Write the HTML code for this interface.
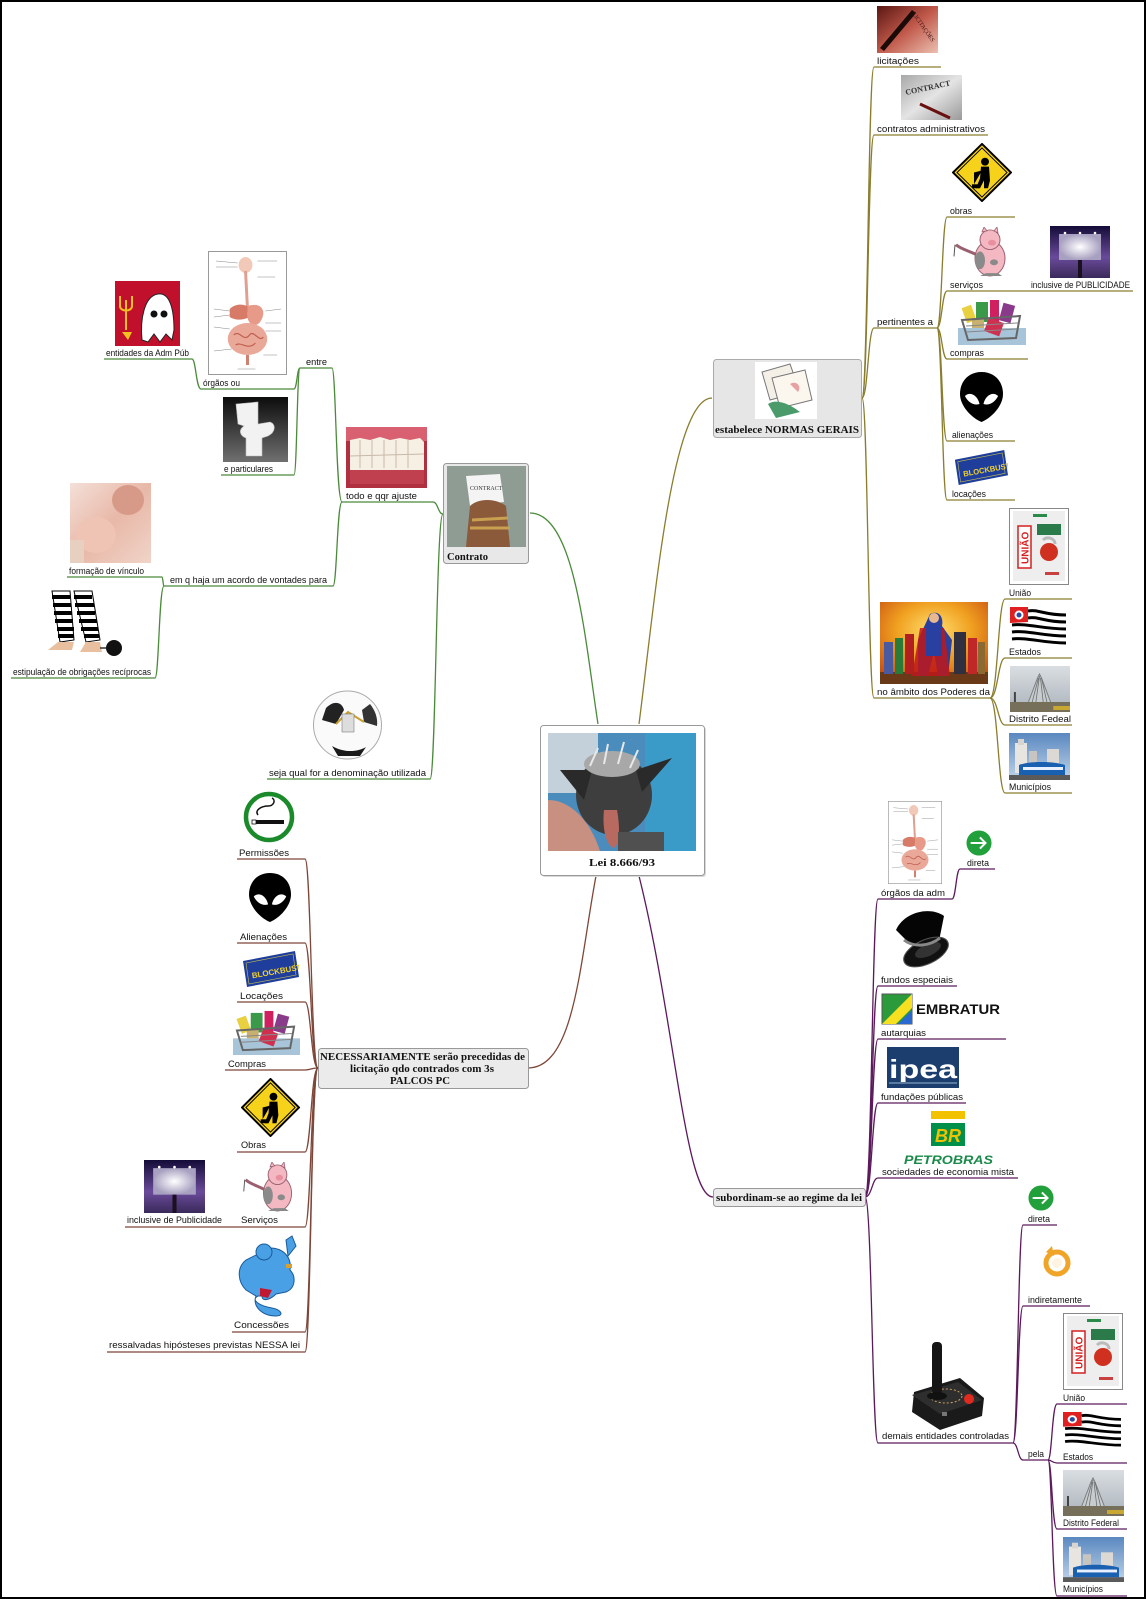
<!DOCTYPE html>
<html><head><meta charset="utf-8"><style>
html,body{margin:0;padding:0;background:#fff;}
svg{display:block;}
.t{font-family:"Liberation Sans",Arial,sans-serif;font-size:9px;fill:#111;}
.b{font-family:"Liberation Serif","Times New Roman",serif;font-weight:bold;font-size:11px;fill:#111;}
.g{fill:none;stroke:#4b8a3b;stroke-width:1.3;}
.o{fill:none;stroke:#8a7d2e;stroke-width:1.3;}
.r{fill:none;stroke:#7d4638;stroke-width:1.3;}
.p{fill:none;stroke:#5c1a5c;stroke-width:1.3;}
</style></head><body>
<svg width="1146" height="1600" viewBox="0 0 1146 1600" xmlns="http://www.w3.org/2000/svg">
<defs>
<linearGradient id="lic" x1="0" y1="0" x2="1" y2="1"><stop offset="0" stop-color="#5a1612"/><stop offset=".5" stop-color="#c0584a"/><stop offset="1" stop-color="#ecc0b0"/></linearGradient>
<linearGradient id="con" x1="0" y1="0" x2="1" y2="1"><stop offset="0" stop-color="#a8a8a8"/><stop offset=".5" stop-color="#e4e4e4"/><stop offset="1" stop-color="#9a9a9a"/></linearGradient>
<linearGradient id="bb" x1="0" y1="0" x2="0" y2="1"><stop offset="0" stop-color="#140c38"/><stop offset=".6" stop-color="#6a4a9a"/><stop offset="1" stop-color="#3a2a5a"/></linearGradient>
<radialGradient id="bbw"><stop offset="0" stop-color="#fff"/><stop offset="1" stop-color="#a8a0c0"/></radialGradient>
<radialGradient id="hero" cx=".5" cy=".35" r=".7"><stop offset="0" stop-color="#ffe070"/><stop offset=".5" stop-color="#f0a020"/><stop offset="1" stop-color="#c85010"/></radialGradient>
<linearGradient id="dfs" x1="0" y1="0" x2="0" y2="1"><stop offset="0" stop-color="#dadee2"/><stop offset="1" stop-color="#aab2ba"/></linearGradient>
<linearGradient id="mus" x1="0" y1="0" x2="0" y2="1"><stop offset="0" stop-color="#5a88c0"/><stop offset="1" stop-color="#c0d4e8"/></linearGradient>
<linearGradient id="toi" x1="0" y1="0" x2="0" y2="1"><stop offset="0" stop-color="#0c0c0c"/><stop offset="1" stop-color="#707070"/></linearGradient>
<linearGradient id="baby" x1="0" y1="0" x2="1" y2="1"><stop offset="0" stop-color="#f4e0d8"/><stop offset=".5" stop-color="#e8b8a8"/><stop offset="1" stop-color="#f0d4c8"/></linearGradient>

<symbol id="alien" viewBox="0 0 44 50" preserveAspectRatio="none"><path d="M22,0C36,0 44,10 44,22C44,34 32,46 22,50C12,46 0,34 0,22C0,10 8,0 22,0Z" fill="#000"/><path d="M5,24C10,19 18,23 20,32C14,34 8,30 5,24Z M39,24C34,19 26,23 24,32C30,34 36,30 39,24Z" fill="#fff"/></symbol>
<symbol id="blk" viewBox="0 0 58 36" preserveAspectRatio="none"><path d="M2,10L54,0L58,26L6,36Z" fill="#1f3e9c"/><path d="M5,12L52,3L55,24L8,33Z" fill="none" stroke="#c8c050" stroke-width=".6"/><text x="10" y="24" transform="rotate(-10 30 18)" font-family="Liberation Sans,sans-serif" font-weight="bold" font-size="8" fill="#f2d22a">BLOCKBUSTER</text></symbol>
<symbol id="cart" viewBox="0 0 68 47" preserveAspectRatio="none"><rect x="0" y="30" width="68" height="17" fill="#a8c4d8"/><rect x="6" y="8" width="10" height="16" fill="#e8d040" transform="rotate(-20 11 16)"/><rect x="18" y="4" width="12" height="20" fill="#3a9a4a"/><rect x="32" y="2" width="9" height="22" fill="#d02060"/><rect x="43" y="6" width="12" height="18" fill="#8a3a8a" transform="rotate(15 49 15)"/><rect x="28" y="22" width="16" height="14" fill="#d03050" transform="rotate(20 36 29)"/><rect x="14" y="20" width="12" height="10" fill="#c8b070"/><path d="M4,22L62,18L58,40L10,42Z" fill="none" stroke="#666" stroke-width="2"/><path d="M8,28L60,25M8,34L59,31" stroke="#888" stroke-width="1"/></symbol>
<symbol id="sign" viewBox="0 0 60 60" preserveAspectRatio="none"><polygon points="30,1 59,30 30,59 1,30" fill="#f6d21a" stroke="#000" stroke-width="2"/><polygon points="30,5 55,30 30,55 5,30" fill="none" stroke="#000" stroke-width="1"/><circle cx="33" cy="19" r="4" fill="#000"/><path d="M29,24L37,24L38,38L36,46L32,46L32,38L28,46L24,46L28,36Z" fill="#000"/><path d="M22,30L30,28L22,42Z" fill="#000"/><rect x="20" y="42" width="7" height="4" fill="#000"/></symbol>
<symbol id="pig" viewBox="0 0 64 52" preserveAspectRatio="none"><ellipse cx="40" cy="32" rx="15" ry="18" fill="#f4b8c2" stroke="#9a6070" stroke-width="1"/><circle cx="40" cy="13" r="10" fill="#f4b8c2" stroke="#9a6070" stroke-width="1"/><path d="M32,5L34,0L37,4Z M44,4L47,0L48,6Z" fill="#f4b8c2" stroke="#9a6070" stroke-width=".8"/><ellipse cx="42" cy="16" rx="4" ry="3" fill="#e890a0"/><path d="M26,28C18,24 10,22 6,18" stroke="#9a6070" stroke-width="3" fill="none"/><path d="M5,18L4,30" stroke="#555" stroke-width="1"/><ellipse cx="30" cy="34" rx="5" ry="9" fill="#8a8a8a"/><ellipse cx="44" cy="36" rx="4" ry="3" fill="#8a8a8a"/><path d="M30,50L36,47L48,47L52,50Z" fill="#888"/></symbol>
<symbol id="bill" viewBox="0 0 60 52" preserveAspectRatio="none"><rect width="60" height="52" fill="url(#bb)"/><rect x="9" y="8" width="42" height="26" fill="url(#bbw)"/><rect x="28" y="34" width="4" height="18" fill="#1a1020"/><circle cx="15" cy="7" r="1.3" fill="#fff"/><circle cx="30" cy="7" r="1.3" fill="#fff"/><circle cx="45" cy="7" r="1.3" fill="#fff"/></symbol>
<symbol id="bag" viewBox="0 0 60 77" preserveAspectRatio="none"><rect x=".5" y=".5" width="59" height="76" fill="#fff" stroke="#888"/><rect x="4" y="3" width="52" height="70" fill="#eeeeee"/><rect x="24" y="6" width="14" height="3" fill="#2a8a4a"/><rect x="9" y="18" width="13" height="42" fill="#fff" stroke="#d42020" stroke-width="1.5"/><text x="0" y="0" transform="translate(19.5 56) rotate(-90)" font-family="Liberation Sans,sans-serif" font-weight="bold" font-size="10" fill="#d42020">UNIÃO</text><rect x="28" y="16" width="24" height="11" fill="#2a7a4a"/><circle cx="40" cy="44" r="9" fill="#d03020"/><path d="M34,32C38,28 46,30 46,36" stroke="#bbb" stroke-width="3" fill="none"/><rect x="36" y="64" width="14" height="3" fill="#c84040"/></symbol>
<symbol id="flag" viewBox="0 0 57 38" preserveAspectRatio="none"><g fill="none" stroke="#000" stroke-width="3"><path d="M18,4C28,2 34,8 56,8"/><path d="M18,11C28,9 34,15 56,15"/><path d="M2,18C18,16 32,22 56,22"/><path d="M2,25C18,23 32,29 56,29"/><path d="M2,32C18,30 32,36 56,36"/></g><path d="M0,0L18,0L18,15L0,16Z" fill="#e02020"/><circle cx="9" cy="8" r="4.5" fill="#fff"/><circle cx="9" cy="8" r="2.5" fill="#2a4aa0"/></symbol>
<symbol id="df" viewBox="0 0 61 46" preserveAspectRatio="none"><rect width="61" height="46" fill="url(#dfs)"/><path d="M18,38L28,12L30,8L32,12L42,38Z" fill="#c8ccce" stroke="#7a7e80" stroke-width="1"/><path d="M22,38L29,12M26,38L30,10M34,38L31,12M38,38L32,12" stroke="#6a6e70" stroke-width=".8"/><rect x="4" y="26" width="2" height="12" fill="#444"/><rect x="0" y="36" width="61" height="10" fill="#76705a"/><rect x="44" y="40" width="17" height="4" fill="#c8a830"/></symbol>
<symbol id="mun" viewBox="0 0 61 47" preserveAspectRatio="none"><rect width="61" height="47" fill="url(#mus)"/><rect x="6" y="10" width="12" height="30" fill="#e8e4e0"/><rect x="9" y="6" width="6" height="6" fill="#d8d4d0"/><rect x="38" y="16" width="12" height="24" fill="#dcd8d4"/><rect x="20" y="18" width="8" height="20" fill="#c8c4c0"/><path d="M10,32C20,28 44,28 56,32L56,42L10,42Z" fill="#1a60b0"/><rect x="14" y="34" width="40" height="3" fill="#e8f0ff"/><rect x="0" y="42" width="61" height="5" fill="#5a5a5a"/></symbol>
<symbol id="org" viewBox="0 0 80 124" preserveAspectRatio="none"><rect x=".5" y=".5" width="79" height="123" fill="#fff" stroke="#999"/><ellipse cx="38" cy="14" rx="7" ry="8" fill="#f2c8b8"/><path d="M38,20L40,58" stroke="#e0a090" stroke-width="3"/><path d="M22,58C30,50 44,54 46,62C40,70 28,70 22,66Z" fill="#d87a68"/><path d="M40,55C56,50 60,62 52,72C45,78 38,70 40,60Z" fill="#e89a88"/><ellipse cx="40" cy="88" rx="20" ry="16" fill="#eaa898"/><path d="M26,84C32,78 36,92 42,84C46,78 52,92 56,86M28,94C34,90 40,100 48,92" stroke="#c06050" stroke-width="1.2" fill="none"/><path d="M40,104L40,114" stroke="#d08070" stroke-width="3"/><g stroke="#888" stroke-width=".6"><path d="M8,10L30,12M8,16L30,16M50,10L70,10M50,26L68,26M6,58L22,60M6,66L22,64M6,76L22,78M58,60L74,58M58,72L74,72M58,80L74,80M6,100L24,98M56,104L70,104M30,118L48,118"/></g></symbol>
<symbol id="garrow" viewBox="0 0 28 28"><circle cx="14" cy="14" r="13.5" fill="#22a03c"/><path d="M5,14L21,14M15,8L21,14L15,20" stroke="#fff" stroke-width="2.2" fill="none"/></symbol>
</defs>

<rect x="1" y="1" width="1144" height="1597" fill="#fff" stroke="#000" stroke-width="2"/>

<!-- CONNECTORS -->
<g>
<path class="g" d="M598,724C585,640 575,513 530,513"/>
<path class="g" d="M443,514C438,514 438,502 433,502L342,502"/>
<path class="g" d="M443,514C436,514 436,779 430,779L267,779"/>
<path class="g" d="M342,502C336,502 336,368 332,368L300,368"/>
<path class="g" d="M342,502C337,502 337,586 333,586L164,586"/>
<path class="g" d="M300,368C297,368 297,389 294,389L201,389"/>
<path class="g" d="M300,368C297,368 297,475 294,475L221,475"/>
<path class="g" d="M201,389C196,389 196,359 192,359L104,359"/>
<path class="g" d="M164,586C163,586 163,577 162,577L67,577"/>
<path class="g" d="M164,586C159,586 159,678 155,678L11,678"/>

<path class="o" d="M639,724C655,600 672,398 712,398"/>
<path class="o" d="M862,398C868,398 868,67 874,67L941,67"/>
<path class="o" d="M862,398C868,398 868,135 874,135L988,135"/>
<path class="o" d="M862,398C868,398 868,328 874,328L937,328"/>
<path class="o" d="M862,398C868,398 868,698 874,698L990,698"/>
<path class="o" d="M937,328C942,328 942,217 947,217L1015,217"/>
<path class="o" d="M937,328C942,328 942,291 947,291L1133,291"/>
<path class="o" d="M937,328C942,328 942,359 947,359L1028,359"/>
<path class="o" d="M937,328C942,328 942,441 947,441L1015,441"/>
<path class="o" d="M937,328C942,328 942,500 947,500L1015,500"/>
<path class="o" d="M990,698C998,698 998,599 1005,599L1072,599"/>
<path class="o" d="M990,698C998,698 998,658 1005,658L1072,658"/>
<path class="o" d="M990,698C998,698 998,725 1005,725L1072,725"/>
<path class="o" d="M990,698C998,698 998,793 1005,793L1072,793"/>

<path class="r" d="M596,876C580,960 575,1068 528,1068"/>
<path class="r" d="M318,1068C311,1068 311,859 305,859L237,859"/>
<path class="r" d="M318,1068C311,1068 311,943 305,943L237,943"/>
<path class="r" d="M318,1068C311,1068 311,1002 305,1002L237,1002"/>
<path class="r" d="M318,1068C311,1068 311,1070 305,1070L225,1070"/>
<path class="r" d="M318,1068C311,1068 311,1152 305,1152L237,1152"/>
<path class="r" d="M318,1068C311,1068 311,1227 305,1227L125,1227"/>
<path class="r" d="M318,1068C311,1068 311,1332 305,1332L232,1332"/>
<path class="r" d="M318,1068C311,1068 311,1352 305,1352L107,1352"/>

<path class="p" d="M639,876C675,1020 685,1197 713,1197"/>
<path class="p" d="M865,1197C872,1197 872,899 878,899L952,899"/>
<path class="p" d="M865,1197C872,1197 872,986 878,986L957,986"/>
<path class="p" d="M865,1197C872,1197 872,1039 878,1039L1006,1039"/>
<path class="p" d="M865,1197C872,1197 872,1103 878,1103L966,1103"/>
<path class="p" d="M865,1197C872,1197 872,1178 878,1178L1018,1178"/>
<path class="p" d="M865,1197C872,1197 872,1443 878,1443L1013,1443"/>
<path class="p" d="M952,899C956,899 956,869 960,869L995,869"/>
<path class="p" d="M1013,1443C1018,1443 1018,1225 1023,1225L1057,1225"/>
<path class="p" d="M1013,1443C1018,1443 1018,1306 1023,1306L1090,1306"/>
<path class="p" d="M1013,1443C1018,1443 1018,1460 1023,1460L1048,1460"/>
<path class="p" d="M1048,1460C1052,1460 1052,1404 1057,1404L1127,1404"/>
<path class="p" d="M1048,1460C1052,1460 1052,1463 1057,1463L1127,1463"/>
<path class="p" d="M1048,1460C1052,1460 1052,1529 1057,1529L1127,1529"/>
<path class="p" d="M1048,1460C1052,1460 1052,1596 1057,1596L1127,1596"/>
</g>

<!-- MAIN BOXES -->
<rect x="542" y="727" width="164" height="150" rx="3" fill="#d8d8d8"/>
<rect x="540.5" y="725.5" width="164" height="150" rx="3" fill="#fff" stroke="#999"/>
<g>
<rect x="548" y="733" width="148" height="118" fill="#4a8cbc"/>
<rect x="548" y="733" width="50" height="60" fill="#c4d0da"/>
<rect x="645" y="733" width="51" height="118" fill="#3a9ac8"/>
<path d="M548,800C570,800 590,820 600,851L548,851Z" fill="#c89080"/>
<ellipse cx="614" cy="795" rx="38" ry="40" fill="#3e3e3e"/>
<path d="M560,770L592,770L584,800Z" fill="#2a2a2a"/>
<path d="M672,758L642,792L636,770Z" fill="#2a2a2a"/>
<ellipse cx="612" cy="764" rx="28" ry="13" fill="#a8a8a8"/>
<path d="M590,766L598,748M604,764L608,744M618,764L624,742M630,768L638,750" stroke="#e8e8e8" stroke-width="2"/>
<path d="M604,810C602,828 606,846 614,848C620,844 620,826 617,810Z" fill="#b86a60"/>
<rect x="618" y="832" width="46" height="19" fill="#505050"/>
</g>
<text class="b" x="589" y="866" font-size="12" textLength="66" lengthAdjust="spacingAndGlyphs">Lei 8.666/93</text>

<!-- estabelece box -->
<rect x="713.5" y="359.5" width="148" height="78" rx="3" fill="#e6e6e6" stroke="#aaa"/>
<rect x="755" y="362" width="62" height="57" fill="#fff"/>
<path d="M762,372L790,364L800,392L770,400Z" fill="#f4f0e8" stroke="#777" stroke-width="1"/>
<path d="M772,378L805,370L812,400L780,408Z" fill="#fbf6ee" stroke="#777" stroke-width="1"/>
<path d="M768,404C776,398 790,404 800,412L776,418Z" fill="#4a9a6a"/>
<path d="M790,384C796,380 802,386 798,392Z" fill="#e8a0a0"/>
<text class="b" x="715" y="433" textLength="144" lengthAdjust="spacingAndGlyphs">estabelece NORMAS GERAIS</text>

<!-- Contrato box -->
<rect x="443.5" y="463.5" width="85" height="100" rx="3" fill="#e8e8e8" stroke="#999"/>
<rect x="447" y="466" width="79" height="81" fill="#8e9c94"/>
<path d="M466,476L500,474L504,502L470,506Z" fill="#f4f4f4"/>
<text x="470" y="490" font-family="Liberation Serif,serif" font-size="6" fill="#333">CONTRACT</text>
<path d="M470,506C478,498 496,498 506,506L510,547L466,547Z" fill="#8a5a3a"/>
<path d="M472,520L508,518M470,528L510,528" stroke="#c8a050" stroke-width="3"/>
<text class="b" x="447" y="560" font-size="11" textLength="41" lengthAdjust="spacingAndGlyphs">Contrato</text>

<!-- NECESSARIAMENTE box -->
<rect x="318.5" y="1048.5" width="210" height="40" rx="3" fill="#ebebeb" stroke="#999"/>
<text class="b" x="320" y="1060" font-size="10.5" textLength="205" lengthAdjust="spacingAndGlyphs">NECESSARIAMENTE serão precedidas de</text>
<text class="b" x="350" y="1072" font-size="10.5" textLength="144" lengthAdjust="spacingAndGlyphs">licitação qdo contrados com 3s</text>
<text class="b" x="390" y="1084" font-size="10.5" textLength="60" lengthAdjust="spacingAndGlyphs">PALCOS PC</text>

<!-- subordinam box -->
<rect x="713.5" y="1188.5" width="152" height="18" rx="3" fill="#ebebeb" stroke="#999"/>
<text class="b" x="716" y="1201" font-size="10.5" textLength="146" lengthAdjust="spacingAndGlyphs">subordinam-se ao regime da lei</text>

<!-- TOP RIGHT IMAGES -->
<rect x="877" y="6" width="61" height="47" fill="url(#lic)"/>
<path d="M880,48L912,10L916,13L884,51Z" fill="#1a0a08"/>
<text x="0" y="0" transform="translate(912 14) rotate(55)" font-family="Liberation Serif,serif" font-size="6" fill="#3a1010">LICITAÇÕES</text>
<rect x="901" y="75" width="61" height="45" fill="url(#con)"/>
<text x="0" y="0" transform="translate(906 95) rotate(-12)" font-family="Liberation Serif,serif" font-weight="bold" font-size="8" fill="#333">CONTRACT</text>
<path d="M920,104L950,118" stroke="#6a1010" stroke-width="3"/>
<use href="#sign" x="952" y="143" width="60" height="59"/>
<use href="#pig" x="950" y="227" width="64" height="51"/>
<use href="#bill" x="1050" y="226" width="60" height="52"/>
<use href="#cart" x="958" y="298" width="68" height="47"/>
<use href="#alien" x="960" y="372" width="43" height="50"/>
<use href="#blk" x="953" y="450" width="55" height="35"/>
<use href="#bag" x="1009" y="508" width="60" height="77"/>
<rect x="880" y="602" width="108" height="82" fill="url(#hero)"/>
<g>
<rect x="880" y="672" width="108" height="12" fill="#6a3a18"/>
<path d="M930,614C938,610 944,616 942,626L952,640L948,676L938,676L934,652L928,676L918,676L918,640Z" fill="#2a40a0"/>
<path d="M920,628L912,676L950,676L944,628Z" fill="#c01818" opacity=".85"/>
<rect x="926" y="628" width="16" height="28" fill="#2a40a0"/>
<circle cx="934" cy="618" r="5" fill="#e8b890"/>
<rect x="884" y="642" width="9" height="32" fill="#4a5aa0"/>
<rect x="895" y="638" width="8" height="36" fill="#2a7a3a"/>
<rect x="905" y="634" width="9" height="40" fill="#b02020"/>
<rect x="954" y="632" width="12" height="42" fill="#303040"/>
<rect x="968" y="638" width="9" height="36" fill="#c02828"/>
<rect x="978" y="642" width="7" height="32" fill="#8a6a30"/>
</g>
<use href="#flag" x="1010" y="607" width="57" height="38"/>
<use href="#df" x="1010" y="666" width="60" height="46"/>
<use href="#mun" x="1009" y="733" width="61" height="47"/>

<!-- TOP LEFT IMAGES -->
<rect x="115" y="281" width="65" height="65" fill="#c0102c"/>
<path d="M142,340C140,320 144,296 158,294C170,292 174,310 174,330L172,340L166,334L160,342L154,334L148,342Z" fill="#fff" stroke="#222" stroke-width="1"/>
<circle cx="154" cy="314" r="3.5" fill="#111"/><circle cx="164" cy="314" r="3.5" fill="#111"/>
<path d="M126,330L126,300M120,306L120,296M132,306L132,296M120,306C120,312 132,312 132,306" stroke="#f0c020" stroke-width="2" fill="none"/>
<path d="M122,332L132,332L128,340Z" fill="#f0c020"/>
<use href="#org" x="208" y="251" width="79" height="124"/>
<rect x="223" y="397" width="65" height="65" fill="url(#toi)"/>
<path d="M236,404L258,402L258,424L270,422C276,424 276,432 268,436L262,438L262,456L246,456L246,438C240,436 238,430 244,426L238,424Z" fill="#f2f2f2" stroke="#bbb" stroke-width=".6"/>
<rect x="346" y="427" width="81" height="61" fill="#b03040"/>
<rect x="346" y="427" width="81" height="14" fill="#d86070"/>
<path d="M350,440L360,438L370,440L380,437L390,440L400,438L410,440L420,438L424,442L424,470L350,470Z" fill="#f6f0e4"/>
<path d="M360,440L360,468M372,440L372,468M384,440L384,468M396,440L396,468M408,440L408,468M350,456L424,454" stroke="#c8b8a8" stroke-width="1"/>
<rect x="350" y="470" width="74" height="14" fill="#c04050"/>
<rect x="70" y="483" width="81" height="80" fill="url(#baby)"/>
<ellipse cx="96" cy="535" rx="20" ry="18" fill="#f0c4b4"/>
<ellipse cx="128" cy="500" rx="16" ry="15" fill="#d89a88"/>
<rect x="70" y="540" width="14" height="23" fill="#e8d0c0"/>
<g>
<path d="M52,591L70,591L74,640L60,642Z" fill="#fff" stroke="#000" stroke-width="1"/>
<path d="M74,591L92,591L100,640L86,642Z" fill="#fff" stroke="#000" stroke-width="1"/>
<path d="M52,597L70,597M53,605L71,605M54,613L72,613M55,621L73,621M57,629L74,629M58,636L74,636M74,597L92,597M75,605L94,605M77,613L95,613M79,621L97,621M81,629L98,629M84,636L99,636" stroke="#000" stroke-width="4"/>
<path d="M58,642L74,642L72,650L48,650Z M86,642L100,642L102,652L80,652Z" fill="#e8c0a0"/>
<circle cx="114" cy="648" r="8" fill="#111"/>
<path d="M100,648L106,648" stroke="#333" stroke-width="1.5"/>
</g>
<circle cx="347.5" cy="725" r="34" fill="#fafafa" stroke="#aaa" stroke-width="1"/>
<path d="M326,708C334,700 342,702 344,710L336,724L322,720Z" fill="#222"/>
<path d="M370,704C375,710 378,718 377,726L364,722L362,710Z" fill="#333"/>
<path d="M332,746C342,752 356,753 366,747L360,756L338,756Z" fill="#1a1a1a"/>
<path d="M336,724L348,712L364,722" stroke="#c8a030" stroke-width="2" fill="none"/>
<rect x="342" y="714" width="12" height="18" fill="#ddd" stroke="#666" stroke-width=".5"/>

<!-- BOTTOM LEFT IMAGES -->
<circle cx="269" cy="817" r="23" fill="#fff" stroke="#1a8a2a" stroke-width="4.5"/>
<rect x="252" y="820" width="32" height="4" fill="#111"/>
<rect x="252" y="820" width="4" height="4" fill="#fff" stroke="#111" stroke-width=".8"/>
<path d="M258,815C254,810 262,806 268,806C274,806 276,800 272,798" stroke="#111" stroke-width="1.5" fill="none"/>
<use href="#alien" x="249" y="873" width="42" height="49"/>
<use href="#blk" x="241" y="951" width="58" height="36"/>
<use href="#cart" x="233" y="1009" width="67" height="46"/>
<use href="#sign" x="241" y="1078" width="59" height="59"/>
<use href="#bill" x="144" y="1160" width="61" height="53"/>
<use href="#pig" x="240" y="1162" width="60" height="51"/>
<g>
<path d="M270,1248C284,1248 292,1258 290,1270C296,1276 296,1288 286,1292L276,1294C270,1300 262,1302 262,1296L258,1296C250,1300 260,1306 272,1308C282,1310 284,1316 276,1316C262,1316 252,1306 256,1296L246,1290C238,1282 236,1268 246,1260Z" fill="#4aa0e4" stroke="#1a5a9a" stroke-width="1"/>
<circle cx="264" cy="1252" r="8" fill="#4aa0e4" stroke="#1a5a9a" stroke-width="1"/>
<path d="M286,1240L292,1236L296,1246L288,1256Z" fill="#4aa0e4" stroke="#1a5a9a" stroke-width="1"/>
<path d="M260,1288L272,1290L268,1298L260,1296Z" fill="#c01830"/>
<rect x="286" y="1264" width="6" height="4" fill="#d8a030"/>
</g>

<!-- BOTTOM RIGHT IMAGES -->
<use href="#org" x="888" y="801" width="54" height="83"/>
<use href="#garrow" x="966" y="830" width="26" height="26"/>
<g>
<path d="M896,930C904,912 930,906 944,916L938,946C930,950 918,950 910,944Z" fill="#050505"/>
<ellipse cx="926" cy="952" rx="24" ry="12" transform="rotate(-25 926 952)" fill="#111" stroke="#555" stroke-width="1"/>
<ellipse cx="928" cy="950" rx="14" ry="6" transform="rotate(-25 928 950)" fill="#333"/>
<path d="M904,940C914,948 930,946 940,938" stroke="#888" stroke-width="3" fill="none"/>
</g>
<rect x="882" y="994" width="30" height="30" fill="#2a9a3a" stroke="#555" stroke-width="1"/>
<path d="M882,1024L912,994L912,1008L896,1024Z" fill="#f6e020"/>
<path d="M898,1024L912,1010L912,1024Z" fill="#2a6ad0"/>
<text x="916" y="1014" font-family="Liberation Sans,sans-serif" font-weight="bold" font-size="14" fill="#111" textLength="84" lengthAdjust="spacingAndGlyphs">EMBRATUR</text>
<rect x="887" y="1047" width="72" height="41" fill="#1c3e6e"/>
<text x="889" y="1078" font-family="Liberation Sans,sans-serif" font-weight="bold" font-size="26" fill="#fff" textLength="68" lengthAdjust="spacingAndGlyphs">ipea</text>
<rect x="889" y="1082" width="68" height="2" fill="#5a7aa0"/>
<rect x="931" y="1111" width="34" height="8" fill="#f2c200"/>
<rect x="931" y="1123" width="34" height="23" fill="#00904a"/>
<text x="935" y="1142" font-family="Liberation Sans,sans-serif" font-weight="bold" font-style="italic" font-size="18" fill="#f2c200" textLength="26" lengthAdjust="spacingAndGlyphs">BR</text>
<text x="904" y="1164" font-family="Liberation Sans,sans-serif" font-weight="bold" font-style="italic" font-size="12" fill="#1a8a4a" textLength="89" lengthAdjust="spacingAndGlyphs">PETROBRAS</text>
<use href="#garrow" x="1028" y="1185" width="26" height="26"/>
<circle cx="1057" cy="1263" r="11" fill="none" stroke="#f0a428" stroke-width="5"/>
<circle cx="1057" cy="1263" r="5" fill="#fff4e0"/>
<path d="M1046,1252L1052,1246L1054,1256Z" fill="#f0a428"/>
<g>
<path d="M914,1392L960,1378L984,1398L982,1416L940,1430L912,1412Z" fill="#1a1a1a"/>
<path d="M912,1395L958,1382L982,1400L940,1414Z" fill="#2e2e2e"/>
<ellipse cx="946" cy="1396" rx="16" ry="7" fill="none" stroke="#c8a060" stroke-width="1" stroke-dasharray="2 2"/>
<rect x="932" y="1342" width="10" height="52" rx="4" fill="#151515"/>
<ellipse cx="937" cy="1396" rx="10" ry="4" fill="#111"/>
<circle cx="969" cy="1399" r="5" fill="#e02a20"/>
<rect x="942" y="1412" width="5" height="4" fill="#777"/>
</g>
<use href="#bag" x="1063" y="1313" width="60" height="77"/>
<use href="#flag" x="1063" y="1412" width="59" height="35"/>
<use href="#df" x="1063" y="1470" width="61" height="46"/>
<use href="#mun" x="1063" y="1537" width="61" height="45"/>

<!-- LABELS -->
<text class="t" x="877" y="64" textLength="42" lengthAdjust="spacingAndGlyphs">licitações</text>
<text class="t" x="877" y="132" textLength="108" lengthAdjust="spacingAndGlyphs">contratos administrativos</text>
<text class="t" x="950" y="214" textLength="22" lengthAdjust="spacingAndGlyphs">obras</text>
<text class="t" x="950" y="288" textLength="33" lengthAdjust="spacingAndGlyphs">serviços</text>
<text class="t" x="1031" y="288" textLength="99" lengthAdjust="spacingAndGlyphs">inclusive de PUBLICIDADE</text>
<text class="t" x="877" y="325" textLength="56" lengthAdjust="spacingAndGlyphs">pertinentes a</text>
<text class="t" x="950" y="356" textLength="34" lengthAdjust="spacingAndGlyphs">compras</text>
<text class="t" x="952" y="438" textLength="41" lengthAdjust="spacingAndGlyphs">alienações</text>
<text class="t" x="952" y="497" textLength="34" lengthAdjust="spacingAndGlyphs">locações</text>
<text class="t" x="1009" y="596" textLength="22" lengthAdjust="spacingAndGlyphs">União</text>
<text class="t" x="1009" y="655" textLength="32" lengthAdjust="spacingAndGlyphs">Estados</text>
<text class="t" x="877" y="695" textLength="113" lengthAdjust="spacingAndGlyphs">no âmbito dos Poderes da</text>
<text class="t" x="1009" y="722" textLength="62" lengthAdjust="spacingAndGlyphs">Distrito Fedeal</text>
<text class="t" x="1009" y="790" textLength="42" lengthAdjust="spacingAndGlyphs">Municípios</text>

<text class="t" x="106" y="356" textLength="83" lengthAdjust="spacingAndGlyphs">entidades da Adm Púb</text>
<text class="t" x="203" y="386" textLength="37" lengthAdjust="spacingAndGlyphs">órgãos ou</text>
<text class="t" x="306" y="365" textLength="21" lengthAdjust="spacingAndGlyphs">entre</text>
<text class="t" x="224" y="472" textLength="49" lengthAdjust="spacingAndGlyphs">e particulares</text>
<text class="t" x="346" y="499" textLength="71" lengthAdjust="spacingAndGlyphs">todo e qqr ajuste</text>
<text class="t" x="69" y="574" textLength="75" lengthAdjust="spacingAndGlyphs">formação de vínculo</text>
<text class="t" x="170" y="583" textLength="157" lengthAdjust="spacingAndGlyphs">em q haja um acordo de vontades para</text>
<text class="t" x="13" y="675" textLength="138" lengthAdjust="spacingAndGlyphs">estipulação de obrigações recíprocas</text>
<text class="t" x="269" y="776" textLength="157" lengthAdjust="spacingAndGlyphs">seja qual for a denominação utilizada</text>

<text class="t" x="239" y="856" textLength="50" lengthAdjust="spacingAndGlyphs">Permissões</text>
<text class="t" x="240" y="940" textLength="47" lengthAdjust="spacingAndGlyphs">Alienações</text>
<text class="t" x="240" y="999" textLength="43" lengthAdjust="spacingAndGlyphs">Locações</text>
<text class="t" x="228" y="1067" textLength="38" lengthAdjust="spacingAndGlyphs">Compras</text>
<text class="t" x="241" y="1148" textLength="25" lengthAdjust="spacingAndGlyphs">Obras</text>
<text class="t" x="127" y="1223" textLength="95" lengthAdjust="spacingAndGlyphs">inclusive de Publicidade</text>
<text class="t" x="241" y="1223" textLength="37" lengthAdjust="spacingAndGlyphs">Serviços</text>
<text class="t" x="234" y="1328" textLength="55" lengthAdjust="spacingAndGlyphs">Concessões</text>
<text class="t" x="109" y="1348" textLength="191" lengthAdjust="spacingAndGlyphs">ressalvadas hipósteses previstas NESSA lei</text>

<text class="t" x="881" y="896" textLength="64" lengthAdjust="spacingAndGlyphs">órgãos da adm</text>
<text class="t" x="967" y="866" textLength="22" lengthAdjust="spacingAndGlyphs">direta</text>
<text class="t" x="881" y="983" textLength="72" lengthAdjust="spacingAndGlyphs">fundos especiais</text>
<text class="t" x="881" y="1036" textLength="45" lengthAdjust="spacingAndGlyphs">autarquias</text>
<text class="t" x="881" y="1100" textLength="82" lengthAdjust="spacingAndGlyphs">fundações públicas</text>
<text class="t" x="882" y="1175" textLength="132" lengthAdjust="spacingAndGlyphs">sociedades de economia mista</text>
<text class="t" x="1028" y="1222" textLength="22" lengthAdjust="spacingAndGlyphs">direta</text>
<text class="t" x="1028" y="1303" textLength="54" lengthAdjust="spacingAndGlyphs">indiretamente</text>
<text class="t" x="882" y="1439" textLength="127" lengthAdjust="spacingAndGlyphs">demais entidades controladas</text>
<text class="t" x="1028" y="1457" textLength="16" lengthAdjust="spacingAndGlyphs">pela</text>
<text class="t" x="1063" y="1401" textLength="22" lengthAdjust="spacingAndGlyphs">União</text>
<text class="t" x="1063" y="1460" textLength="30" lengthAdjust="spacingAndGlyphs">Estados</text>
<text class="t" x="1063" y="1526" textLength="56" lengthAdjust="spacingAndGlyphs">Distrito Federal</text>
<text class="t" x="1063" y="1592" textLength="40" lengthAdjust="spacingAndGlyphs">Municípios</text>
</svg>
</body></html>
